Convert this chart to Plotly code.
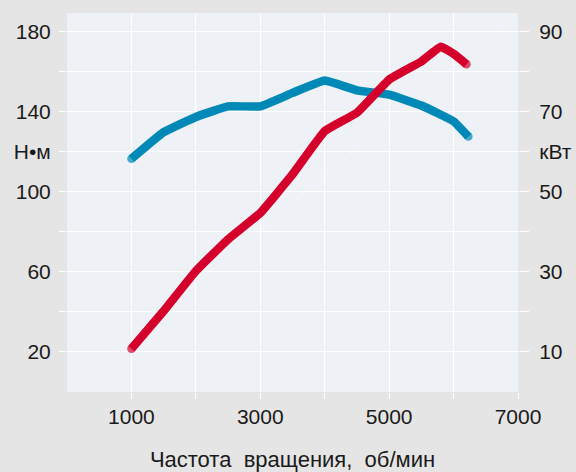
import plotly.graph_objects as go

# Torque (Н•м, left axis)
torque_rpm = [1000, 1500, 2000, 2500, 3000, 3500, 4000, 4500, 5000, 5500, 6000, 6230]
torque_nm = [116.4, 129.7, 137.3, 142.6, 142.6, 149.3, 155.5, 150.6, 148.4, 143.0, 135.1, 127.5]

# Power (кВт, right axis)
power_rpm = [1000, 1500, 2000, 2500, 3000, 3500, 4000, 4500, 5000, 5500, 5800, 6000, 6200]
power_kw = [10.8, 20.2, 30.2, 38.1, 44.7, 54.3, 65.1, 69.7, 78.0, 82.5, 86.2, 84.4, 81.8]

x_tickvals = [1000, 2000, 3000, 4000, 5000, 6000, 7000]
x_ticktext = ["1000", "", "3000", "", "5000", "", "7000"]
left_tickvals = [20, 40, 60, 80, 100, 120, 140, 160, 180]
left_ticktext = ["20", "", "60", "", "100", "Н•м", "140", "", "180"]
right_tickvals = [10, 20, 30, 40, 50, 60, 70, 80, 90]
right_ticktext = ["10", "", "30", "", "50", "кВт", "70", "", "90"]
x_title = "Частота\u00a0\u00a0вращения,\u00a0\u00a0об/мин"

BLUE = "#0089b7"
RED = "#d4002b"
LW = 8.5
FONT = "Liberation Sans, Arial, Helvetica, sans-serif"


def end_sizes(n, s):
    return [s] + [0] * (n - 2) + [s]


fig = go.Figure()
fig.add_trace(go.Scatter(
    x=torque_rpm, y=torque_nm, mode="lines+markers",
    line=dict(color=BLUE, width=LW, shape="spline", smoothing=0.3),
    marker=dict(color=BLUE, size=end_sizes(len(torque_rpm), LW), line=dict(width=0)),
    yaxis="y", showlegend=False, hoverinfo="skip"))
fig.add_trace(go.Scatter(
    x=power_rpm, y=power_kw, mode="lines+markers",
    line=dict(color=RED, width=LW, shape="spline", smoothing=0.3),
    marker=dict(color=RED, size=end_sizes(len(power_rpm), LW), line=dict(width=0)),
    yaxis="y2", showlegend=False, hoverinfo="skip"))

fig.add_shape(type="line", xref="paper", yref="paper", x0=0, y0=0, x1=1, y1=1,
              line=dict(color="rgba(255,255,255,0.3)", width=1), layer="below")

axis_font = dict(family=FONT, size=21, color="#1a1a1a")
title_font = dict(family=FONT, size=22, color="#1a1a1a")

fig.update_layout(
    width=576, height=472,
    margin=dict(l=67, r=58, t=13, b=80),
    paper_bgcolor="#e5e5e5",
    plot_bgcolor="#eef1f6",
    font=axis_font,
    xaxis=dict(
        range=[0, 7000], tickmode="array", tickvals=x_tickvals, ticktext=x_ticktext,
        showgrid=True, gridcolor="white", gridwidth=1.2, zeroline=False,
        showline=False, ticks="outside", ticklen=6, tickcolor="white", tickwidth=1.2,
        tickfont=axis_font, automargin=False,
        title=dict(text=x_title, font=title_font, standoff=24),
    ),
    yaxis=dict(
        range=[0, 189.2], tickmode="array", tickvals=left_tickvals, ticktext=left_ticktext,
        showgrid=True, gridcolor="white", gridwidth=1.2, zeroline=False,
        showline=False, ticks="outside", ticklen=7, tickcolor="white", tickwidth=1.2,
        tickfont=axis_font, ticklabelstandoff=4, automargin=False,
    ),
    yaxis2=dict(
        range=[0, 94.6], overlaying="y", side="right", tickmode="array",
        tickvals=right_tickvals, ticktext=right_ticktext,
        showgrid=False, zeroline=False, showline=False,
        ticks="outside", ticklen=10, tickcolor="white", tickwidth=1.2,
        tickfont=axis_font, ticklabelstandoff=6, automargin=False,
    ),
)

fig.write_html(
    "out.html",
    config={"displayModeBar": False},
    post_script="document.body.style.margin='0';document.body.style.background='#e5e5e5';",
)
